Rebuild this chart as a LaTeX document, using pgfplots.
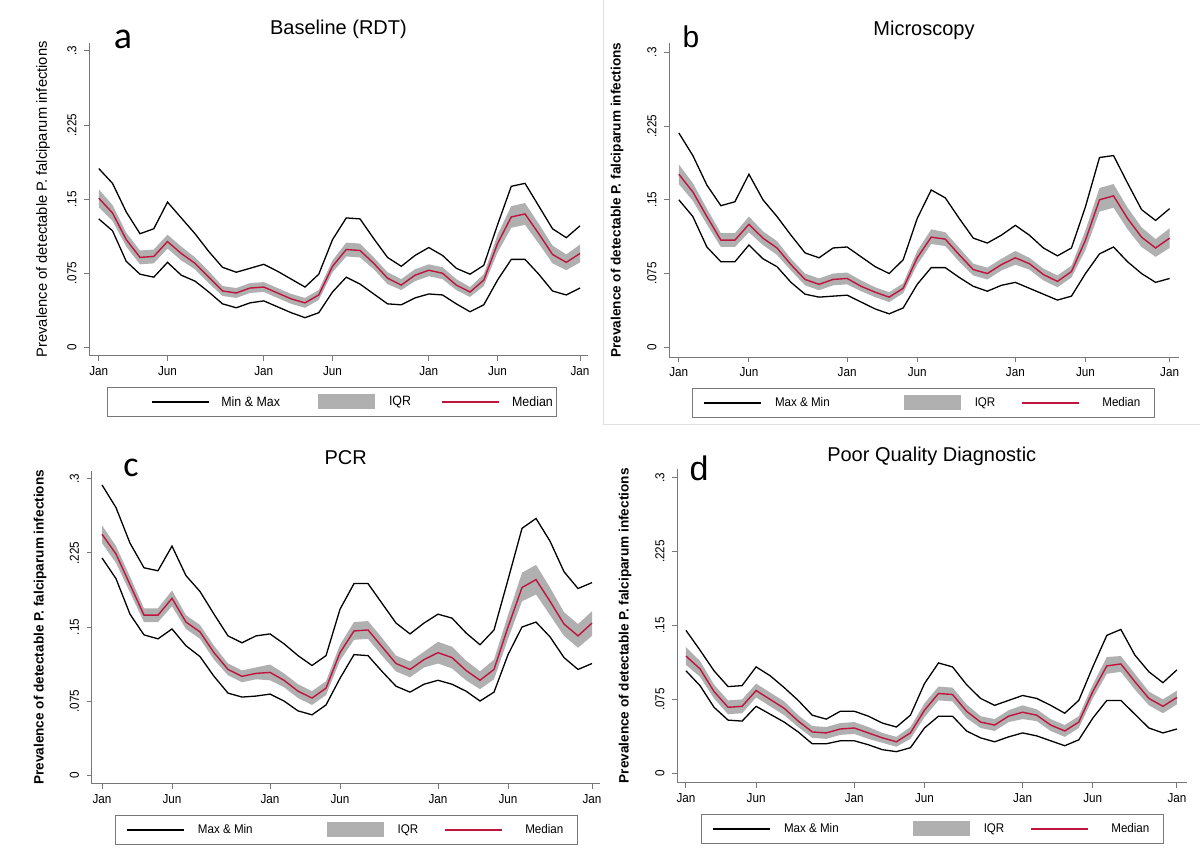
\documentclass[border=0pt]{standalone}
\usepackage{fontspec}
\setmainfont{Liberation Sans}
\newfontfamily\narrowfont[FakeStretch=0.9]{Liberation Sans}
\newfontfamily\legfont[FakeStretch=0.92]{Liberation Sans}
\newfontfamily\calfont{Carlito}
\usepackage{pgfplots}
\pgfplotsset{compat=1.18}
\usepackage{pgfplotstable}
\usepgfplotslibrary{fillbetween}
\definecolor{medred}{RGB}{190,20,62}
\definecolor{iqrgray}{RGB}{176,176,176}
\definecolor{axgray}{RGB}{120,120,120}

\pgfplotstableread{
m lo q1 med q3 hi
0 0.130 0.142 0.151 0.160 0.181
1 0.118 0.128 0.136 0.144 0.166
2 0.087 0.102 0.109 0.116 0.137
3 0.074 0.084 0.091 0.098 0.115
4 0.071 0.085 0.092 0.099 0.120
5 0.086 0.100 0.107 0.114 0.147
6 0.073 0.088 0.095 0.102 0.131
7 0.067 0.079 0.085 0.091 0.115
8 0.056 0.065 0.071 0.077 0.097
9 0.044 0.052 0.057 0.062 0.081
10 0.040 0.050 0.055 0.060 0.076
11 0.045 0.055 0.060 0.065 0.080
12 0.047 0.056 0.061 0.066 0.084
13 0.041 0.050 0.055 0.060 0.077
14 0.035 0.044 0.049 0.054 0.069
15 0.030 0.040 0.045 0.050 0.061
16 0.035 0.048 0.053 0.058 0.074
17 0.056 0.076 0.082 0.088 0.109
18 0.071 0.092 0.099 0.106 0.131
19 0.064 0.091 0.098 0.105 0.130
20 0.054 0.079 0.085 0.091 0.110
21 0.044 0.064 0.070 0.076 0.091
22 0.043 0.058 0.063 0.069 0.082
23 0.050 0.067 0.073 0.079 0.093
24 0.054 0.072 0.078 0.084 0.101
25 0.053 0.069 0.075 0.081 0.093
26 0.044 0.058 0.063 0.069 0.080
27 0.036 0.051 0.056 0.061 0.074
28 0.043 0.062 0.068 0.074 0.083
29 0.068 0.096 0.105 0.114 0.124
30 0.089 0.121 0.132 0.143 0.163
31 0.089 0.124 0.135 0.146 0.166
32 0.074 0.105 0.115 0.125 0.143
33 0.057 0.085 0.094 0.103 0.120
34 0.053 0.078 0.086 0.094 0.111
35 0.060 0.086 0.095 0.104 0.123
}\tA

\pgfplotstableread{
m lo q1 med q3 hi
0 0.150 0.166 0.176 0.186 0.218
1 0.133 0.149 0.158 0.167 0.195
2 0.102 0.125 0.133 0.141 0.165
3 0.087 0.102 0.109 0.116 0.144
4 0.087 0.102 0.109 0.116 0.148
5 0.104 0.117 0.125 0.133 0.176
6 0.090 0.104 0.111 0.118 0.150
7 0.082 0.094 0.101 0.108 0.133
8 0.066 0.078 0.084 0.090 0.114
9 0.054 0.063 0.069 0.075 0.096
10 0.051 0.058 0.064 0.070 0.091
11 0.052 0.063 0.069 0.075 0.101
12 0.053 0.064 0.070 0.076 0.102
13 0.046 0.057 0.062 0.068 0.092
14 0.039 0.051 0.056 0.061 0.082
15 0.034 0.046 0.051 0.056 0.075
16 0.040 0.055 0.060 0.065 0.089
17 0.064 0.084 0.091 0.098 0.131
18 0.081 0.105 0.112 0.120 0.160
19 0.081 0.103 0.110 0.117 0.152
20 0.071 0.087 0.094 0.101 0.131
21 0.062 0.073 0.079 0.085 0.111
22 0.057 0.069 0.075 0.081 0.106
23 0.063 0.078 0.084 0.090 0.114
24 0.066 0.084 0.091 0.098 0.124
25 0.060 0.079 0.085 0.091 0.114
26 0.054 0.068 0.074 0.080 0.101
27 0.048 0.061 0.067 0.073 0.093
28 0.052 0.071 0.077 0.083 0.101
29 0.075 0.099 0.109 0.119 0.143
30 0.095 0.138 0.150 0.162 0.193
31 0.102 0.142 0.154 0.166 0.195
32 0.087 0.120 0.131 0.142 0.167
33 0.075 0.102 0.112 0.122 0.140
34 0.066 0.092 0.101 0.110 0.129
35 0.070 0.101 0.111 0.121 0.141
}\tB

\pgfplotstableread{
m lo q1 med q3 hi
0 0.220 0.235 0.244 0.253 0.294
1 0.199 0.215 0.224 0.232 0.271
2 0.163 0.185 0.193 0.201 0.235
3 0.142 0.155 0.162 0.169 0.210
4 0.138 0.155 0.162 0.169 0.207
5 0.148 0.171 0.179 0.187 0.232
6 0.131 0.148 0.155 0.162 0.202
7 0.120 0.138 0.145 0.152 0.186
8 0.100 0.117 0.124 0.131 0.163
9 0.083 0.101 0.107 0.113 0.141
10 0.079 0.094 0.100 0.106 0.134
11 0.080 0.097 0.103 0.109 0.141
12 0.082 0.096 0.104 0.112 0.143
13 0.075 0.089 0.096 0.103 0.133
14 0.065 0.078 0.085 0.092 0.121
15 0.061 0.071 0.078 0.085 0.111
16 0.071 0.081 0.088 0.095 0.121
17 0.098 0.116 0.124 0.132 0.168
18 0.122 0.137 0.146 0.155 0.194
19 0.121 0.138 0.147 0.156 0.194
20 0.105 0.121 0.130 0.139 0.174
21 0.090 0.105 0.113 0.121 0.154
22 0.084 0.099 0.107 0.115 0.143
23 0.092 0.109 0.117 0.125 0.154
24 0.096 0.113 0.124 0.135 0.163
25 0.092 0.108 0.119 0.130 0.159
26 0.085 0.096 0.106 0.116 0.144
27 0.075 0.087 0.096 0.105 0.132
28 0.084 0.097 0.107 0.117 0.147
29 0.122 0.138 0.150 0.162 0.198
30 0.150 0.176 0.190 0.205 0.250
31 0.155 0.183 0.198 0.213 0.260
32 0.140 0.162 0.176 0.190 0.237
33 0.119 0.141 0.153 0.165 0.206
34 0.107 0.129 0.141 0.153 0.189
35 0.113 0.141 0.154 0.166 0.195
}\tC

\pgfplotstableread{
m lo q1 med q3 hi
0 0.104 0.110 0.119 0.128 0.145
1 0.089 0.098 0.106 0.114 0.125
2 0.067 0.076 0.083 0.090 0.104
3 0.054 0.060 0.067 0.074 0.088
4 0.053 0.061 0.068 0.075 0.089
5 0.068 0.077 0.084 0.091 0.108
6 0.060 0.068 0.075 0.082 0.099
7 0.052 0.059 0.066 0.073 0.087
8 0.042 0.047 0.053 0.059 0.074
9 0.030 0.036 0.042 0.048 0.059
10 0.030 0.035 0.041 0.047 0.055
11 0.033 0.039 0.045 0.051 0.063
12 0.033 0.040 0.046 0.052 0.063
13 0.029 0.035 0.041 0.047 0.058
14 0.024 0.031 0.036 0.041 0.051
15 0.022 0.027 0.032 0.037 0.047
16 0.026 0.035 0.041 0.047 0.059
17 0.046 0.057 0.064 0.071 0.091
18 0.058 0.074 0.081 0.088 0.112
19 0.058 0.073 0.080 0.087 0.108
20 0.043 0.056 0.063 0.070 0.090
21 0.036 0.046 0.052 0.058 0.076
22 0.032 0.043 0.049 0.055 0.069
23 0.037 0.052 0.058 0.064 0.074
24 0.041 0.055 0.062 0.069 0.079
25 0.038 0.053 0.059 0.065 0.076
26 0.033 0.043 0.049 0.055 0.069
27 0.028 0.037 0.043 0.049 0.061
28 0.034 0.046 0.052 0.058 0.074
29 0.056 0.076 0.083 0.090 0.108
30 0.074 0.101 0.109 0.118 0.140
31 0.074 0.103 0.111 0.119 0.146
32 0.060 0.085 0.093 0.101 0.120
33 0.046 0.069 0.076 0.083 0.103
34 0.041 0.061 0.068 0.075 0.092
35 0.045 0.070 0.077 0.084 0.105
}\tD

\pgfkeys{/pgfplots/ylabshift/.initial=-46pt,
         /pgfplots/ylabfont/.initial={\fontsize{14.7}{16}\selectfont},
         /pgfplots/legfontsize/.initial={\fontsize{12.6}{14}\selectfont}}

\pgfplotsset{
 panel/.style={
  scale only axis,
  anchor=south west,
  axis x line*=bottom, axis y line*=left,
  axis line style={axgray, line width=1pt},
  tick style={axgray, line width=1pt},
  tick align=outside,
  major tick length=5pt,
  /pgf/number format/assume math mode=true,
  xtick={0,5,12,17,24,29,35},
  xticklabels={Jan,Jun,Jan,Jun,Jan,Jun,Jan},
  ytick={0,0.075,0.15,0.225,0.3},
  yticklabels={0,.075,.15,.225,.3},
  ticklabel style={font=\narrowfont\fontsize{13}{15}\selectfont, text=black},
  yticklabel style={xshift=-4pt, rotate=90, anchor=south},
  xticklabel style={anchor=north, yshift=-2pt},
  ylabel={Prevalence of detectable P. falciparum infections},
  every axis y label/.style={at={(axis description cs:0,0.5)}, anchor=center,
     xshift=\pgfkeysvalueof{/pgfplots/ylabshift}, rotate=90,
     font=\pgfkeysvalueof{/pgfplots/ylabfont}},
  title style={at={(axis description cs:0.5,1)}, anchor=center, yshift=7pt, font=\fontsize{20}{22}\selectfont},
  legend columns=3,
  legend style={draw=axgray, line width=0.8pt, anchor=north west, inner ysep=7pt,
    /tikz/every even column/.style={column sep=0pt},
    /tikz/every odd column/.style={column sep=0pt},
    nodes={inner xsep=0pt, inner ysep=0pt, font=\legfont\pgfkeysvalueof{/pgfplots/legfontsize}}},
 },
 minmax/.style={black, line width=1.3pt, forget plot},
 medl/.style={medred, line width=1.4pt, forget plot},
}

\newcommand{\panelplots}[2]{%
  \addplot[draw=none, name path=q3#2, forget plot] table[x=m,y=q3]{#1};
  \addplot[draw=none, name path=q1#2, forget plot] table[x=m,y=q1]{#1};
  \addplot[iqrgray, draw=none, forget plot] fill between[of=q3#2 and q1#2];
  \addplot[minmax] table[x=m,y=lo]{#1};
  \addplot[minmax] table[x=m,y=hi]{#1};
  \addplot[medl] table[x=m,y=med]{#1};
}

% #1 label, #2 L1, #3 g1, #4 L2, #5 g2, #6 L3, #7 g3, #8 trailing space
\newcommand{\panellegend}[8]{%
  \addlegendimage{legend image code/.code={\path[draw=none,fill=none] (-#2,0pt) -- (57pt+#3,0pt);
     \draw[black, line width=1.3pt] (0pt,0pt) -- (57pt,0pt);}}
  \addlegendentry{#1}
  \addlegendimage{legend image code/.code={\path[draw=none,fill=none] (-#4,0pt) -- (57pt+#5,0pt);
     \fill[iqrgray, draw=none] (0pt,-7.5pt) rectangle (57pt,7.5pt);}}
  \addlegendentry{IQR}
  \addlegendimage{legend image code/.code={\path[draw=none,fill=none] (-#6,0pt) -- (57pt+#7,0pt);
     \draw[medred, line width=1.4pt] (0pt,0pt) -- (57pt,0pt);}}
  \addlegendentry{Median\hspace*{#8}}
}

\begin{document}
\begin{tikzpicture}
\draw[black!12, line width=1pt] (603pt,862pt) -- (603pt,437pt) -- (1200pt,437pt);

% Panel a
\begin{axis}[panel, at={(89pt,506pt)}, width=499pt, height=313.3pt,
  xmin=-0.71, xmax=35.58, ymin=-0.0088, ymax=0.3084,
  title={Baseline (RDT)},
  ylabshift=-46pt, legfontsize={\fontsize{13.5}{15}\selectfont},
  legend style={at={(0.036,-0.099)}, inner xsep=4pt}]
\panelplots{\tA}{a}
\panellegend{Min \& Max}{41pt}{12pt}{38pt}{14pt}{31pt}{13pt}{0pt}
\end{axis}

% Panel b
\begin{axis}[panel, at={(669pt,504.7pt)}, width=510pt, height=314.3pt,
  xmin=-0.70, xmax=35.67, ymin=-0.0102, ymax=0.3095,
  title={Microscopy},
  ylabshift=-52pt, ylabfont={\bfseries\fontsize{13.6}{15}\selectfont},
  legend style={at={(0.045,-0.098)}, inner xsep=11pt}]
\panelplots{\tB}{b}
\panellegend{Max \& Min}{0pt}{14pt}{74pt}{14pt}{27pt}{23pt}{3pt}
\end{axis}

% Panel c
\begin{axis}[panel, at={(91.5pt,78pt)}, width=508.5pt, height=313.3pt,
  xmin=-0.75, xmax=35.57, ymin=-0.0091, ymax=0.3084,
  title={PCR},
  ylabshift=-51.5pt, ylabfont={\bfseries\fontsize{13.6}{15}\selectfont},
  legend style={at={(0.046,-0.099)}, inner xsep=11pt}]
\panelplots{\tC}{c}
\panellegend{Max \& Min}{0pt}{14pt}{74pt}{14pt}{27pt}{23pt}{3pt}
\end{axis}

% Panel d
\begin{axis}[panel, at={(677pt,79.3pt)}, width=509.5pt, height=313.7pt,
  xmin=-0.64, xmax=35.68, ymin=-0.0095, ymax=0.3088,
  title={Poor Quality Diagnostic},
  ylabshift=-52pt, ylabfont={\bfseries\fontsize{13.6}{15}\selectfont},
  legend style={at={(0.047,-0.0998)}, inner xsep=11pt}]
\panelplots{\tD}{d}
\panellegend{Max \& Min}{0pt}{14pt}{74pt}{14pt}{27pt}{23pt}{3pt}
\end{axis}

\node[font=\calfont\fontsize{38}{40}\selectfont] at (123pt,823pt) {a};
\node[font=\fontsize{30}{32}\selectfont] at (691pt,825pt) {b};
\node[font=\calfont\fontsize{36}{38}\selectfont] at (131pt,394pt) {c};
\node[font=\fontsize{34}{36}\selectfont] at (699pt,394pt) {d};
\pgfresetboundingbox
\path[use as bounding box] (0pt,0pt) rectangle (1200pt,862pt);
\end{tikzpicture}
\end{document}
